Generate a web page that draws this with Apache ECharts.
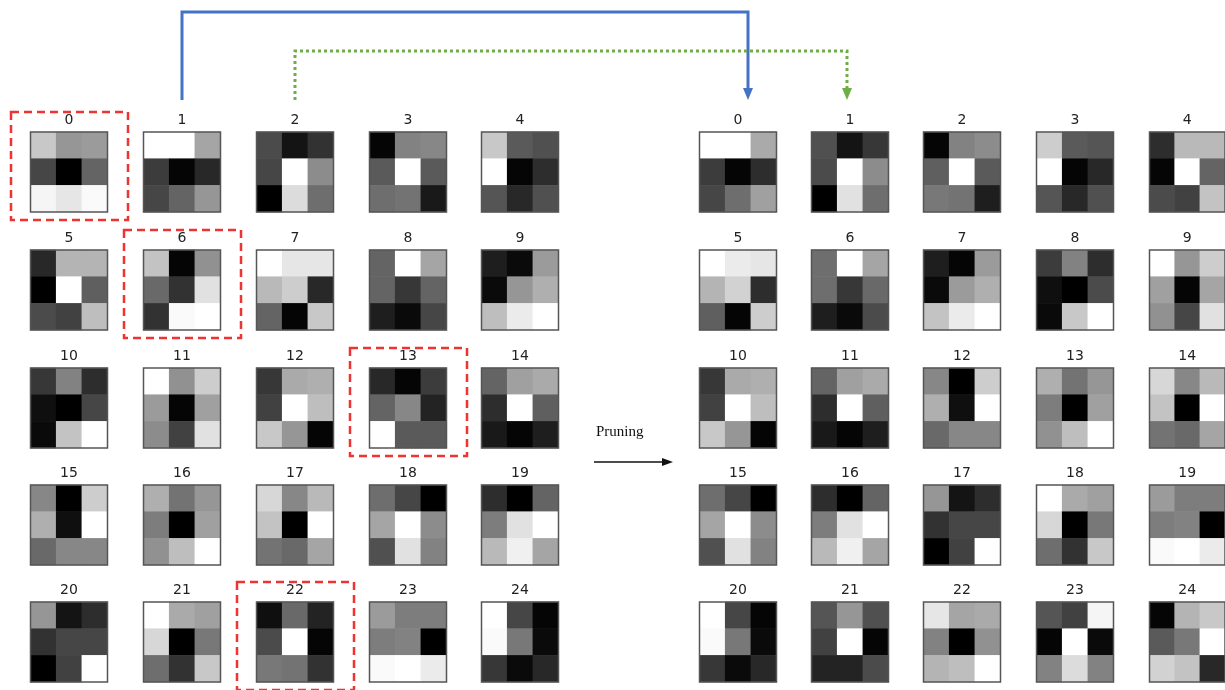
<!DOCTYPE html>
<html>
<head>
<meta charset="utf-8">
<script src="https://cdn.jsdelivr.net/npm/echarts@6/dist/echarts.min.js"></script>
<style>
    html, body { margin: 0; padding: 0; background: #fff; }
    #chart { width: 1225px; height: 690px; }
</style>
</head>
<body>
<div id="chart"></div>
<script>
// 3x3 卷积核灰度值 (0 = 黑, 255 = 白)，按行排列
const leftKernels = [
    [200, 150, 155, 70, 0, 100, 245, 230, 250],
    [255, 255, 165, 60, 5, 40, 70, 100, 150],
    [75, 20, 50, 70, 255, 140, 0, 220, 110],
    [5, 130, 135, 90, 255, 90, 110, 115, 25],
    [200, 90, 80, 255, 5, 45, 85, 40, 80],
    [40, 180, 180, 0, 255, 95, 75, 65, 190],
    [195, 5, 145, 105, 50, 225, 50, 250, 255],
    [255, 230, 230, 185, 205, 40, 100, 5, 200],
    [100, 255, 165, 100, 55, 100, 30, 10, 70],
    [30, 10, 155, 10, 150, 175, 190, 235, 255],
    [55, 130, 45, 15, 0, 70, 10, 195, 255],
    [255, 145, 205, 155, 5, 160, 140, 65, 225],
    [55, 170, 175, 65, 255, 190, 200, 150, 5],
    [40, 5, 60, 100, 135, 35, 255, 90, 90],
    [100, 160, 170, 45, 255, 95, 25, 5, 30],
    [135, 0, 205, 175, 15, 255, 105, 135, 135],
    [175, 115, 150, 125, 0, 160, 145, 190, 255],
    [215, 135, 185, 195, 0, 255, 115, 105, 165],
    [110, 70, 0, 165, 255, 140, 80, 225, 130],
    [45, 0, 100, 125, 225, 255, 185, 240, 165],
    [150, 20, 45, 50, 70, 70, 0, 65, 255],
    [255, 170, 160, 215, 0, 120, 110, 50, 200],
    [15, 105, 35, 75, 255, 5, 120, 115, 50],
    [155, 125, 125, 125, 130, 0, 250, 255, 235],
    [255, 70, 5, 250, 120, 10, 55, 10, 40]
];

const rightKernels = [
    [255, 255, 170, 60, 5, 45, 70, 110, 160],
    [80, 20, 55, 75, 255, 140, 0, 225, 110],
    [5, 130, 140, 95, 255, 90, 120, 115, 30],
    [205, 90, 85, 255, 5, 40, 85, 40, 80],
    [45, 185, 185, 5, 255, 100, 75, 65, 195],
    [255, 235, 230, 180, 210, 45, 95, 5, 205],
    [110, 255, 165, 110, 55, 105, 30, 10, 75],
    [30, 5, 155, 10, 155, 175, 195, 235, 255],
    [60, 130, 45, 15, 0, 75, 10, 200, 255],
    [255, 150, 205, 160, 5, 165, 145, 70, 225],
    [55, 170, 175, 65, 255, 190, 200, 150, 5],
    [100, 160, 170, 45, 255, 95, 25, 5, 30],
    [135, 0, 205, 175, 15, 255, 105, 135, 135],
    [175, 115, 150, 125, 0, 160, 145, 190, 255],
    [215, 135, 185, 195, 0, 255, 115, 105, 165],
    [110, 70, 0, 165, 255, 140, 80, 225, 130],
    [45, 0, 100, 125, 225, 255, 185, 240, 165],
    [150, 20, 45, 50, 70, 70, 0, 65, 255],
    [255, 170, 160, 215, 0, 120, 110, 50, 200],
    [155, 125, 125, 125, 130, 0, 250, 255, 235],
    [255, 70, 5, 250, 120, 10, 55, 10, 40],
    [85, 150, 80, 65, 255, 5, 35, 35, 75],
    [230, 165, 170, 130, 0, 145, 180, 190, 255],
    [85, 65, 245, 5, 255, 10, 130, 220, 130],
    [5, 180, 200, 90, 120, 255, 210, 195, 40]
];

// 被剪枝的卷积核编号
const prunedIndex = [0, 6, 13, 22];
const cellAxis = [0, 1, 2];

// 版面位置
const leftCols = [69, 182, 295, 408, 520];
const rightCols = [738, 850, 962, 1075, 1188];
const rowTops = [132, 250, 368, 485, 602];
const boxW = 77, boxH = 80;

const chart = echarts.init(document.getElementById('chart'));

const grids = [], xAxes = [], yAxes = [], series = [];

const addPanel = (kernels, cols) => {
    kernels.forEach((k, idx) => {
        const g = grids.length;
        const r = Math.floor(idx / 5), c = idx % 5;
        grids.push({
            left: cols[c] - boxW / 2, top: rowTops[r], width: boxW, height: boxH,
            show: true, backgroundColor: 'transparent', borderColor: '#555', borderWidth: 1.5, z: 5
        });
        xAxes.push({
            gridIndex: g, type: 'category', data: cellAxis, position: 'top',
            axisLine: { show: false }, axisTick: { show: false }, axisLabel: { show: false },
            splitLine: { show: false },
            name: String(idx), nameLocation: 'middle', nameGap: 5,
            nameTextStyle: { fontSize: 14, color: '#222', fontFamily: 'DejaVu Sans', verticalAlign: 'bottom' }
        });
        yAxes.push({ gridIndex: g, type: 'category', data: cellAxis, inverse: true, show: false });
        series.push({
            type: 'heatmap', xAxisIndex: g, yAxisIndex: g,
            data: k.map((v, i) => [i % 3, Math.floor(i / 3), v]),
            emphasis: { disabled: true }, silent: true
        });
    });
};

addPanel(leftKernels, leftCols);
addPanel(rightKernels, rightCols);

// 红色虚线框标出被剪枝的卷积核
const prunedBoxes = prunedIndex.map(idx => {
    const r = Math.floor(idx / 5), c = idx % 5;
    return {
        type: 'rect', z: 10,
        shape: { x: leftCols[c] - 58, y: rowTops[r] - 20, width: 117, height: 108 },
        style: { fill: 'none', stroke: '#ee3333', lineWidth: 2.5, lineDash: [8, 5] }
    };
});

const arrowHead = (x, y, color) => ({
    type: 'polygon', z: 10,
    shape: { points: [[x - 5, y - 12], [x + 5, y - 12], [x, y]] },
    style: { fill: color }
});

const graphics = [
    ...prunedBoxes,
    // 蓝色实线：1 -> 0
    {
        type: 'polyline', z: 10,
        shape: { points: [[leftCols[1], 100], [leftCols[1], 12], [748, 12], [748, 90]] },
        style: { stroke: '#4472c4', lineWidth: 3, fill: 'none' }
    },
    arrowHead(748, 100, '#4472c4'),
    // 绿色点线：2 -> 1
    {
        type: 'polyline', z: 10,
        shape: { points: [[leftCols[2], 100], [leftCols[2], 51], [847, 51], [847, 90]] },
        style: { stroke: '#70ad47', lineWidth: 3, lineDash: [3, 3], fill: 'none' }
    },
    arrowHead(847, 100, '#70ad47'),
    // Pruning 箭头
    {
        type: 'text', z: 10, left: 596, top: 425,
        style: { text: 'Pruning', font: '15px "Liberation Serif"', fill: '#111' }
    },
    {
        type: 'line', z: 10,
        shape: { x1: 594, y1: 462, x2: 664, y2: 462 },
        style: { stroke: '#111', lineWidth: 1.5 }
    },
    {
        type: 'polygon', z: 10,
        shape: { points: [[662, 458], [662, 466], [673, 462]] },
        style: { fill: '#111' }
    }
];

chart.setOption({
    animation: false,
    grid: grids,
    xAxis: xAxes,
    yAxis: yAxes,
    visualMap: {
        show: false, type: 'continuous', min: 0, max: 255,
        seriesIndex: series.map((s, i) => i),
        inRange: { color: ['#000000', '#ffffff'] }
    },
    series: series,
    graphic: graphics
});

window.addEventListener('resize', () => chart.resize());
</script>
</body>
</html>
